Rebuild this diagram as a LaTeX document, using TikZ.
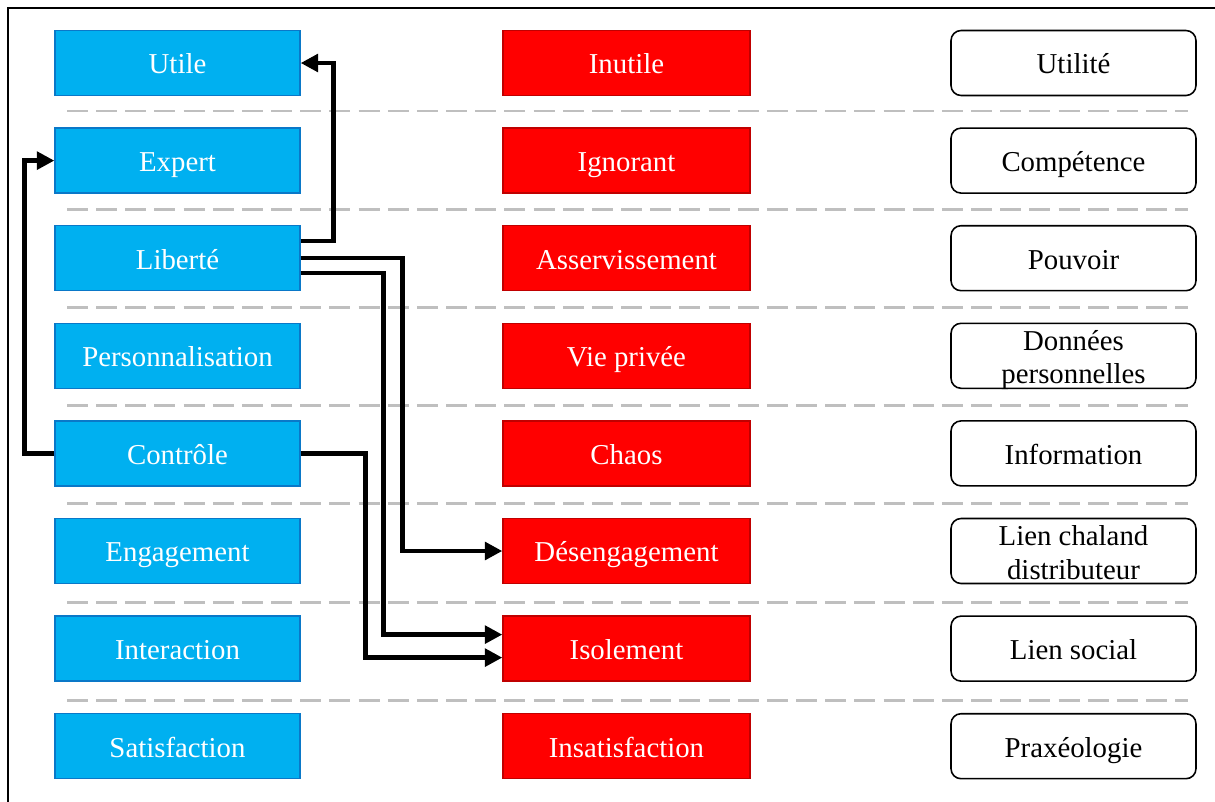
\documentclass[tikz,border=0pt]{standalone}
\usepackage{fontspec}
\setmainfont{Liberation Serif}
\usepackage{xcolor}
\usetikzlibrary{arrows.meta, positioning}

\definecolor{posfill}{HTML}{00B0F0}
\definecolor{posline}{HTML}{0A78C8}
\definecolor{negfill}{HTML}{FF0000}
\definecolor{negline}{HTML}{C00000}
\definecolor{sepgray}{HTML}{BFBFBF}

\begin{document}
\begin{tikzpicture}[x=0.02cm, y=-0.02cm, >={Triangle[length=10pt, width=10pt]},
    font=\fontsize{16.4}{19.3}\selectfont,
    box/.style={minimum width=4.9cm, minimum height=1.3cm, inner sep=0pt},
    onerow/.style={text height=16pt, text depth=3.5pt},
    posbox/.style={box, onerow, draw=posline, fill=posfill, line width=0.8pt, text=white},
    negbox/.style={box, onerow, draw=negline, fill=negfill, line width=0.8pt, text=white,
                   minimum width=4.94cm},
    dimbox/.style={box, onerow, draw=black, rounded corners=0.2cm, line width=0.9pt},
    dimbox2/.style={box, draw=black, rounded corners=0.2cm, line width=0.9pt, align=center,
                    text height=33pt, text depth=1pt},
    sep/.style={draw=sepgray, line width=1.7pt, dash pattern=on 11.9pt off 4.7pt},
    link/.style={->, draw=black, line width=2.6pt}]
  \useasboundingbox (0,0) rectangle (1215,802);
  % frame
  \draw[line width=1.1pt] (8,802) -- (8,8) -- (1215,8);

  % separators
  \foreach \i in {0,...,6}
    \draw[sep] (67,111+98.2*\i) -- (1188,111+98.2*\i);

  % positive column
  \node[posbox] (utile) at (177.5,63) {Utile};
  \node[posbox] (expert) at (177.5,160.6) {Expert};
  \node[posbox] (liberte) at (177.5,258.2) {Liberté};
  \node[posbox] (perso) at (177.5,355.8) {Personnalisation};
  \node[posbox] (controle) at (177.5,453.4) {Contrôle};
  \node[posbox] (engag) at (177.5,551) {Engagement};
  \node[posbox] (interact) at (177.5,648.6) {Interaction};
  \node[posbox] (satisf) at (177.5,746.2) {Satisfaction};

  % negative column
  \node[negbox] (inutile) at (626.5,63) {Inutile};
  \node[negbox] (ignorant) at (626.5,160.6) {Ignorant};
  \node[negbox] (asserv) at (626.5,258.2) {Asservissement};
  \node[negbox] (vieprivee) at (626.5,355.8) {Vie privée};
  \node[negbox] (chaos) at (626.5,453.4) {Chaos};
  \node[negbox] (desengag) at (626.5,551) {Désengagement};
  \node[negbox] (isolement) at (626.5,648.6) {Isolement};
  \node[negbox] (insatisf) at (626.5,746.2) {Insatisfaction};

  % dimensions
  \node[dimbox] (utilite) at (1073.5,63) {Utilité};
  \node[dimbox] (competence) at (1073.5,160.6) {Compétence};
  \node[dimbox] (pouvoir) at (1073.5,258.2) {Pouvoir};
  \node[dimbox2] (donnees) at (1073.5,355.8) {Données\\personnelles};
  \node[dimbox] (information) at (1073.5,453.4) {Information};
  \node[dimbox2] (lienchaland) at (1073.5,551) {Lien chaland\\distributeur};
  \node[dimbox] (liensocial) at (1073.5,648.6) {Lien social};
  \node[dimbox] (praxeo) at (1073.5,746.2) {Praxéologie};

  % links
  \draw[link] ([shift={(0,-17)}]liberte.east) -- ++(33,0) |- (utile.east);
  \draw[link] (controle.west) -- ++(-30,0) |- (expert.west);
  \draw[link] (liberte.east) -- ++(102,0) |- (desengag.west);
  \draw[link] ([shift={(0,15)}]liberte.east) -- ++(83,0) |- ([shift={(0,-14)}]isolement.west);
  \draw[link] (controle.east) -- ++(65,0) |- ([shift={(0,9)}]isolement.west);
\end{tikzpicture}
\end{document}
